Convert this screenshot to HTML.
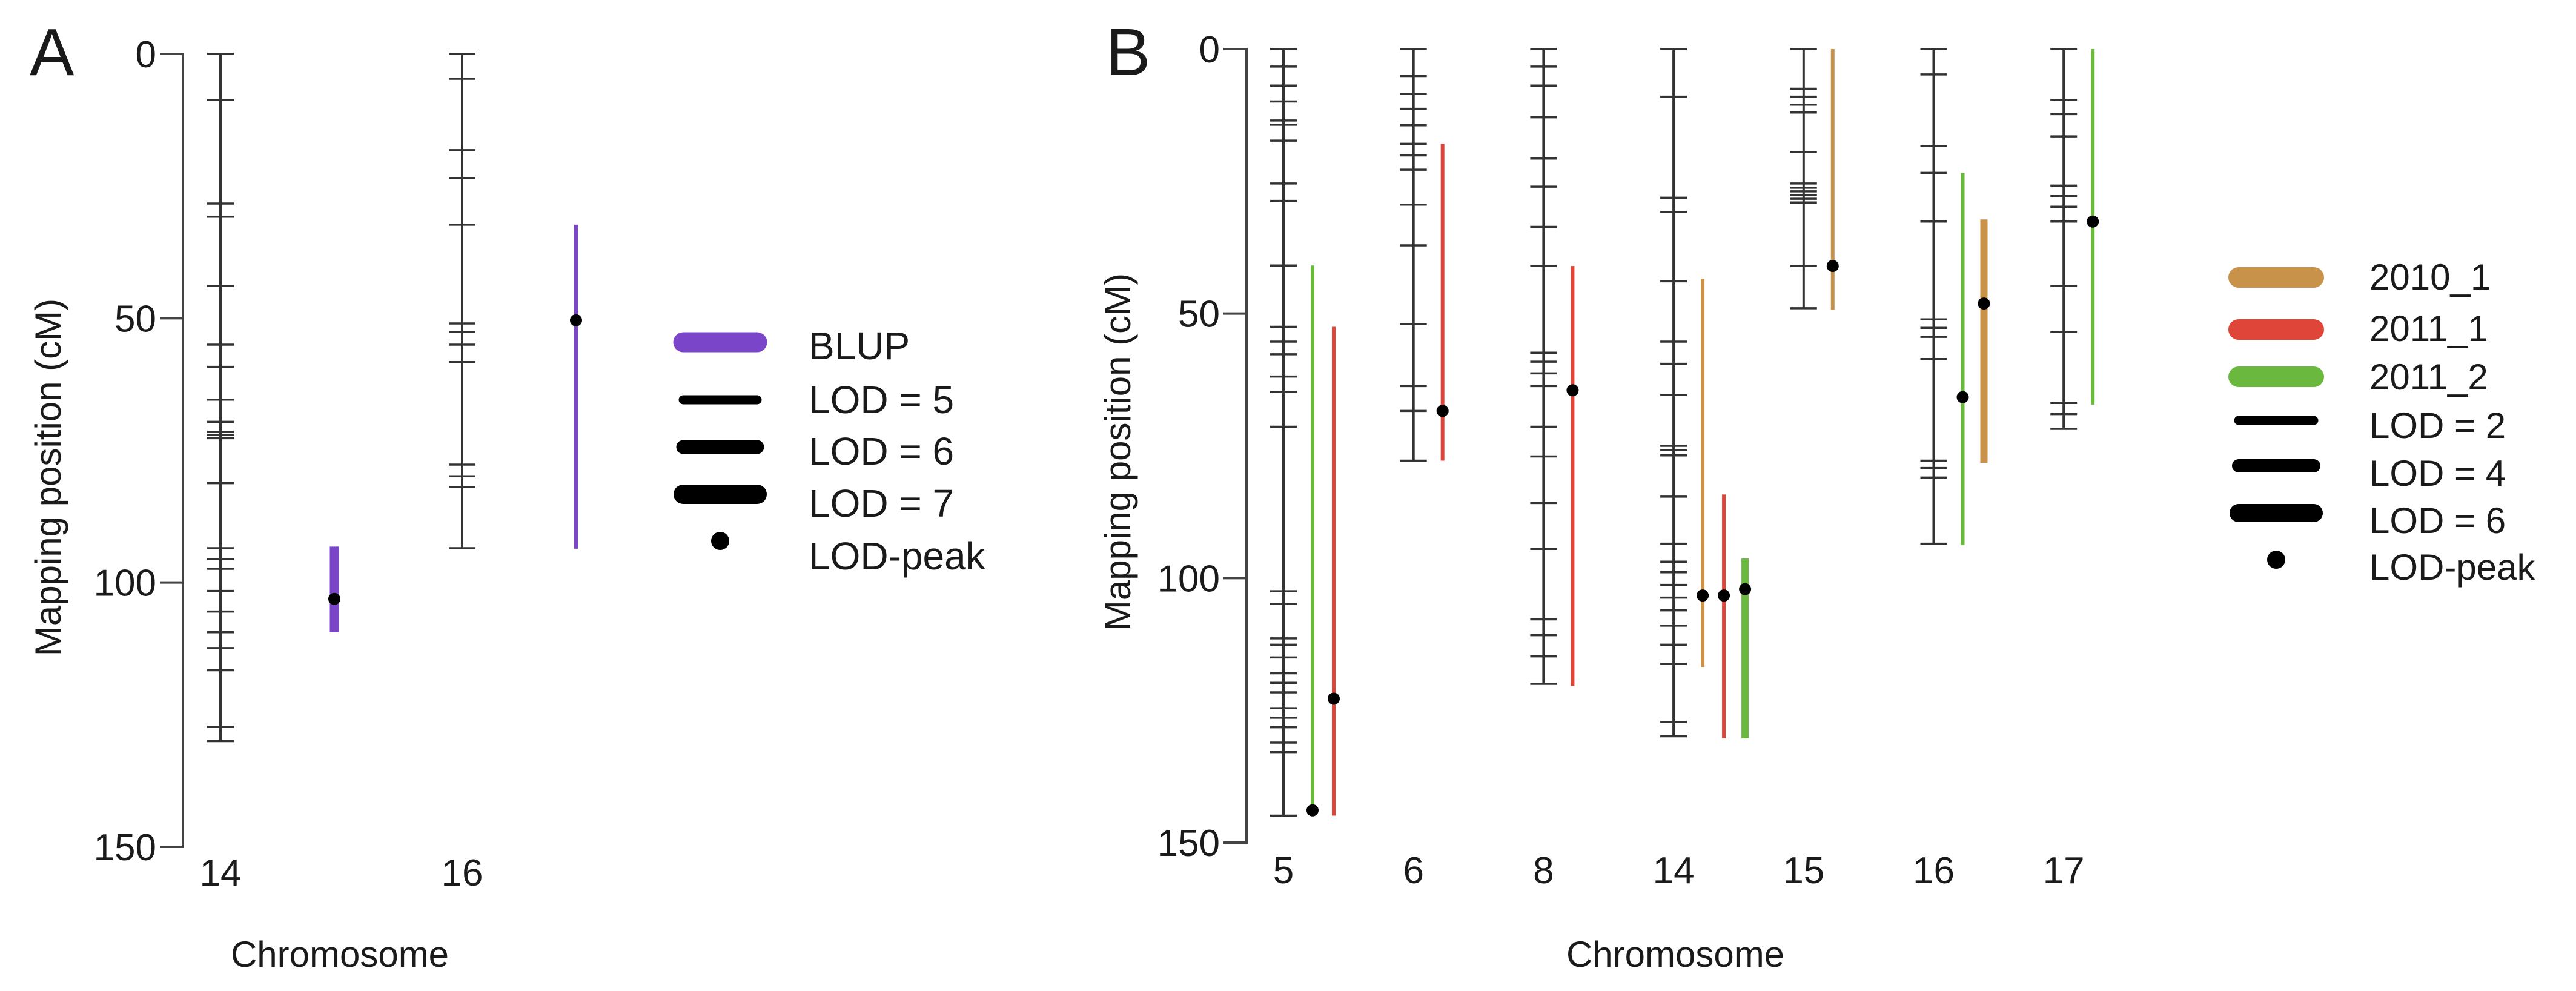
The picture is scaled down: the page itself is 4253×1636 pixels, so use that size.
<!DOCTYPE html>
<html><head><meta charset="utf-8"><style>
html,body{margin:0;padding:0;background:#fff;}
svg{display:block;font-family:"Liberation Sans",sans-serif;}
text{fill:#1a1a1a;}
</style></head>
<body>
<svg id="fig" width="4253" height="1636" viewBox="0 0 4253 1636" xmlns="http://www.w3.org/2000/svg">
<rect width="4253" height="1636" fill="#fff"/>
<text x="49" y="124" font-size="110">A</text>
<text x="1826" y="124" font-size="110">B</text>
<text transform="translate(100,788) rotate(-90)" text-anchor="middle" font-size="60">Mapping position (cM)</text>
<text transform="translate(1866,746) rotate(-90)" text-anchor="middle" font-size="60">Mapping position (cM)</text>
<text x="561" y="1596" text-anchor="middle" font-size="60">Chromosome</text>
<text x="2766" y="1596" text-anchor="middle" font-size="60">Chromosome</text>
<g id="gA"></g><g id="gB"></g><g id="legA"></g><g id="legB"></g>
</svg>
<script>
const yTicks = [0, 50, 100, 150];
// Panel A
const chromsA = ["14", "16"];
const markersA = [
  [0,8.7,28.3,30.8,43.9,55.0,59.2,65.4,69.6,71.5,72.1,72.7,81.2,93.5,95.6,97.4,101.6,105.5,109.4,112.4,116.6,127.3,130.0],
  [0,4.7,18.2,23.5,32.3,51.0,52.6,55.0,58.3,77.7,79.9,81.9,93.5]
];
const qtlChromA = [0, 1];
const qtlStartA = [93.2, 32.3];
const qtlEndA = [109.4, 93.6];
const qtlPeakA = [103.1, 50.4];
const qtlLodA = [7, 5];
const qtlSeriesA = ["BLUP", "BLUP"];
// Panel B
const chromsB = ["5", "6", "8", "14", "15", "16", "17"];
const markersB = [
  [0,3.3,6.9,9.9,13.5,14.3,17.3,25.4,28.7,40.9,52.5,55.3,57.7,61.9,64.8,71.4,102.5,104.9,111.4,112.6,115.0,118.0,119.8,121.6,124.6,126.4,128.2,131.1,132.9,144.9],
  [0,5.1,8.5,11.3,14.4,17.9,20.1,22.8,29.4,37.1,52.0,63.7,68.4,77.8],
  [0,3.3,6.9,12.9,20.7,26.0,33.6,41.0,57.4,59.1,61.3,63.7,71.4,77.0,85.8,94.5,107.8,110.8,114.8,120.0],
  [0,9.0,28.1,30.8,43.9,55.3,59.5,65.4,75.0,75.8,76.8,84.6,93.5,96.9,98.9,101.3,103.7,106.1,109.0,112.6,116.2,127.2,129.9],
  [0,7.5,9.0,10.5,12.0,19.5,25.4,26.2,26.9,27.6,28.3,29.0,41.0,49.0],
  [0,4.8,18.3,23.4,32.6,51.1,52.7,54.4,58.6,77.8,79.2,81.0,93.5],
  [0,9.6,12.3,16.5,25.8,27.8,29.8,32.6,44.8,53.5,66.9,69.0,71.8]
];
const qtlChromB = [0, 0, 1, 2, 3, 3, 3, 4, 5, 5, 6];
const qtlSeriesB = ["2011_2","2011_1","2011_1","2011_1","2010_1","2011_1","2011_2","2010_1","2011_2","2010_1","2011_2"];
const qtlStartB = [40.9, 52.5, 17.9, 41.0, 43.4, 84.2, 96.3, 0, 23.4, 32.2, 0];
const qtlEndB = [144.3, 144.9, 77.8, 120.4, 116.8, 130.3, 130.3, 49.3, 93.8, 78.2, 67.2];
const qtlPeakB = [143.9, 122.8, 68.4, 64.5, 103.3, 103.3, 102.1, 41.0, 65.8, 48.1, 32.6];
const qtlLodB = [2, 2, 2, 2, 2, 2, 4, 2, 2, 4, 2];
const qtlSlotB = [0, 1, 0, 0, 0, 1, 2, 0, 0, 1, 0];

const colors = {"BLUP":"#7b45c9","2010_1":"#c8924a","2011_1":"#e0453a","2011_2":"#6ab93e"};
const NS = "http://www.w3.org/2000/svg";
function mk(parent, tag, attrs){const e=document.createElementNS(NS,tag);for(const k in attrs)e.setAttribute(k,attrs[k]);parent.appendChild(e);return e;}

function drawPanel(g, cfg, chroms, markers, qChrom, qStart, qEnd, qPeak, qLod, qSeries, qSlot, lodWidth){
  const y = v => cfg.y0 + (v/150)*(cfg.y150-cfg.y0);
  const x = i => cfg.cx0 + i*cfg.dx;
  const ax = mk(g,"path",{d:`M${cfg.axisX-38},${y(0)} H${cfg.axisX} V${y(150)} H${cfg.axisX-38}`,fill:"none",stroke:"#444","stroke-width":4});
  
  
  yTicks.forEach(t=>{
    const tk=mk(g,"line",{x1:cfg.axisX-38,x2:cfg.axisX,y1:y(t),y2:y(t),stroke:"#444","stroke-width":4});
    
    
    const tl=mk(g,"text",{x:cfg.axisX-44,y:y(t)+22,"text-anchor":"end","font-size":62});
    tl.textContent=t;
    
    
  });
  chroms.forEach((c,i)=>{
    const cx=x(i), m=markers[i];
    const ln=mk(g,"line",{x1:cx,x2:cx,y1:y(m[0]),y2:y(m[m.length-1]),stroke:"#333","stroke-width":4});
    
    
    m.forEach(v=>{
      const t=mk(g,"line",{x1:cx-22,x2:cx+22,y1:y(v),y2:y(v),stroke:"#333","stroke-width":3.5});
      
      
    });
    const lb=mk(g,"text",{x:cx,y:cfg.labY,"text-anchor":"middle","font-size":62});
    lb.textContent=c;
    
    
  });
  qChrom.forEach((ci,k)=>{
    const qx = x(ci) + cfg.qOff + qSlot[k]*cfg.qGap;
    const b=mk(g,"line",{x1:qx,x2:qx,y1:y(qStart[k]),y2:y(qEnd[k]),stroke:colors[qSeries[k]],"stroke-width":lodWidth(qLod[k])});
    
    
    const d=mk(g,"circle",{cx:qx,cy:y(qPeak[k]),r:10,fill:"#000"});
    
    
  });
}
const slotsA = qChrom => qChrom.map(()=>0);
drawPanel(document.getElementById("gA"),
  {p:"a",y0:89,y150:1398,axisX:302,cx0:364,dx:399,qOff:188,qGap:0,labY:1462},
  chromsA, markersA, qtlChromA, qtlStartA, qtlEndA, qtlPeakA, qtlLodA, qtlSeriesA, slotsA(qtlChromA),
  l => l>=7?15:(l>=6?10:6));
drawPanel(document.getElementById("gB"),
  {p:"b",y0:81,y150:1391,axisX:2058,cx0:2119,dx:214.7,qOff:48,qGap:35,labY:1458},
  chromsB, markersB, qtlChromB, qtlStartB, qtlEndB, qtlPeakB, qtlLodB, qtlSeriesB, qtlSlotB,
  l => l>=6?16:(l>=4?12:6));

const legALabels = ["BLUP","LOD = 5","LOD = 6","LOD = 7","LOD-peak"];
const legAWidths = [33, 15, 23, 32, 0];
const legARows = [565, 660, 738, 816, 893];
const legATextY = [593, 682, 767, 853, 940];
const legBLabels = ["2010_1","2011_1","2011_2","LOD = 2","LOD = 4","LOD = 6","LOD-peak"];
const legBWidths = [34, 34, 34, 15, 22, 30, 0];
const legBRows = [458, 544, 622, 694, 769, 847, 924];
const legBTextY = [478, 563, 643, 723, 802, 880, 957];
const legBColors = [colors["2010_1"],colors["2011_1"],colors["2011_2"],"#000","#000","#000","#000"];
function legend(g, p, labels, widths, rows, textY, cols, x1, x2, tx, fs){
  labels.forEach((lab,i)=>{
    if(widths[i]>0){
      const l=mk(g,"line",{x1:x1,x2:x2,y1:rows[i],y2:rows[i],stroke:cols[i],"stroke-width":widths[i],"stroke-linecap":"round"});
      
      
    } else {
      const c=mk(g,"circle",{cx:(x1+x2)/2,cy:rows[i],r:15,fill:"#000"});
      
      
    }
    const t=mk(g,"text",{x:tx,y:textY[i],"font-size":fs});
    t.textContent=lab;
    
    
  });
}
legend(document.getElementById("legA"),"a",legALabels,legAWidths,legARows,legATextY,[colors.BLUP,"#000","#000","#000","#000"],1128,1250,1335,64);
legend(document.getElementById("legB"),"b",legBLabels,legBWidths,legBRows,legBTextY,legBColors,3696,3820,3912,60);
</script>
</body></html>
